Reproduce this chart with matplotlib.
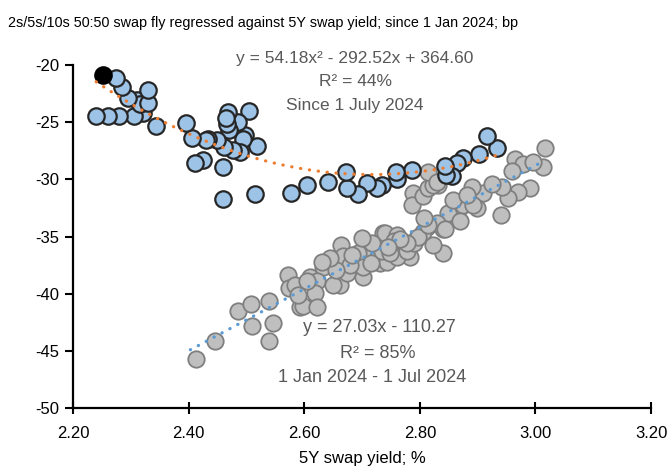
import numpy as np
import matplotlib.pyplot as plt

# 2s/5s/10s fly vs 5Y swap yield, read off the chart
# since 1 Jul 2024 (blue), last point shown in black
recent_x = [2.934, 2.916, 2.902, 2.875, 2.864, 2.856, 2.845, 2.844, 2.787, 2.761,
            2.759, 2.735, 2.726, 2.709, 2.693, 2.674, 2.672, 2.641, 2.605, 2.577,
            2.518, 2.515, 2.504, 2.498, 2.494, 2.489, 2.485, 2.477, 2.470, 2.468,
            2.466, 2.465, 2.461, 2.460, 2.460, 2.449, 2.434, 2.430, 2.425, 2.411,
            2.406, 2.396, 2.344, 2.321, 2.306, 2.280, 2.261, 2.240, 2.311, 2.316,
            2.330, 2.330, 2.295, 2.285, 2.274, 2.252]
recent_y = [-27.3, -26.2, -27.8, -28.1, -28.6, -29.7, -29.6, -28.8, -29.2, -30.0,
            -29.4, -30.5, -30.8, -30.3, -31.3, -30.8, -29.4, -30.2, -30.5, -31.2,
            -27.1, -31.3, -24.0, -26.1, -26.5, -27.6, -25.0, -27.4, -25.7, -24.1,
            -25.2, -24.6, -27.2, -28.9, -31.7, -26.6, -26.5, -26.6, -28.3, -28.6,
            -26.4, -25.1, -25.3, -24.2, -24.5, -24.5, -24.5, -24.5, -23.1, -23.4,
            -23.3, -22.2, -22.9, -21.9, -21.1, -20.9]

# 1 Jan 2024 - 1 Jul 2024 (grey)
early_x = [2.413, 2.446, 2.485, 2.508, 2.539, 2.510, 2.546, 2.539, 2.572, 2.574,
           2.584, 2.593, 2.610, 2.633, 2.622, 2.619, 2.598, 2.622, 2.664, 2.667,
           2.690, 2.702, 2.710, 2.726, 2.702, 2.662, 2.650, 2.736, 2.736, 2.731,
           2.674, 2.788, 2.787, 2.806, 2.814, 2.832, 2.693, 2.702, 2.740, 2.761,
           2.771, 2.795, 2.812, 2.840, 2.852, 2.840, 2.823, 2.783, 2.743, 2.866,
           2.965, 2.979, 3.013, 3.017, 2.996, 2.991, 2.970, 2.953, 2.942, 2.940,
           2.909, 2.890, 2.899, 2.875, 2.849, 2.870, 2.892, 2.823, 2.830, 2.844,
           2.814, 2.830, 2.757, 2.760, 2.777, 2.790, 2.805, 2.680, 2.655, 2.715,
           2.755, 2.735, 2.748, 2.797, 2.778, 2.814, 2.645, 2.631, 2.605, 2.590,
           2.683, 2.718, 2.766, 2.808, 2.858, 2.882, 2.925, 2.960, 2.700, 2.745]
early_y = [-45.7, -44.1, -41.5, -40.9, -40.6, -42.8, -42.6, -44.1, -38.4, -39.5,
           -39.2, -41.2, -38.5, -37.7, -38.9, -39.9, -41.1, -41.2, -35.7, -36.7,
           -37.0, -36.2, -36.4, -37.0, -38.5, -39.2, -39.2, -34.7, -35.9, -37.3,
           -38.2, -31.2, -32.2, -31.5, -30.8, -30.5, -36.4, -37.7, -34.7, -34.9,
           -36.2, -35.1, -34.2, -34.3, -32.9, -36.4, -35.7, -36.8, -37.2, -32.7,
           -28.2, -28.7, -28.9, -27.3, -28.5, -30.8, -31.1, -31.6, -30.7, -33.1,
           -31.2, -30.7, -32.5, -32.2, -32.9, -33.6, -32.2, -30.5, -33.8, -34.3,
           -29.4, -30.2, -36.0, -36.8, -36.3, -35.6, -34.6, -37.5, -37.9, -37.3,
           -35.4, -36.3, -36.4, -35.0, -35.6, -34.0, -36.9, -37.2, -38.9, -40.1,
           -36.6, -35.6, -35.2, -33.4, -31.8, -31.4, -30.4, -29.3, -35.1, -35.9]

xticks = [2.2, 2.4, 2.6, 2.8, 3.0, 3.2]
yticks = [-50, -45, -40, -35, -30, -25, -20]

plt.rcParams['font.family'] = ['Liberation Sans Narrow', 'Liberation Sans', 'DejaVu Sans']

fig = plt.figure(figsize=(6.68, 4.69), dpi=100)
ax = fig.add_axes([0.1093, 0.130, 0.8653, 0.7314])

rx = np.array(recent_x)
ry = np.array(recent_y)
ex = np.array(early_x)
ey = np.array(early_y)

# grey scatter + linear fit
ax.scatter(ex, ey, s=140, facecolor='#BFBFBF', edgecolor='#7F7F7F', linewidth=1.3, zorder=2)
c1 = np.polyfit(ex, ey, 1)
xs = np.linspace(ex.min() - 0.01, ex.max() - 0.01, 100)
ax.plot(xs, np.polyval(c1, xs), color='#5B9BD5', lw=2.3, linestyle=(0, (0.1, 2.7)),
        dash_capstyle='round', zorder=3)

# blue scatter + quadratic fit
ax.scatter(rx[:-1], ry[:-1], s=140, facecolor='#9DC3E6', edgecolor='#262626', linewidth=1.6, zorder=4)
ax.scatter(rx[-1:], ry[-1:], s=140, facecolor='black', edgecolor='black', linewidth=1.6, zorder=5)
c2 = np.polyfit(rx, ry, 2)
xs2 = np.linspace(rx.min(), rx.max(), 100)
ax.plot(xs2, np.polyval(c2, xs2), color='#ED7D31', lw=2.3, linestyle=(0, (0.1, 2.7)),
        dash_capstyle='round', zorder=6)

ax.set_xlim(2.2, 3.2)
ax.set_ylim(-50, -20)
ax.set_xticks(xticks)
ax.set_yticks(yticks)
ax.set_xticklabels([f'{v:.2f}' for v in xticks], fontsize=12)
ax.set_yticklabels([str(v) for v in yticks], fontsize=12)
ax.tick_params(axis='x', direction='inout', length=8, width=1.5, pad=9)
ax.tick_params(axis='y', direction='out', length=6, width=1.5, pad=4)
for s in ['top', 'right']:
    ax.spines[s].set_visible(False)
for s in ['left', 'bottom']:
    ax.spines[s].set_linewidth(1.6)
ax.set_xlabel('5Y swap yield; %', fontsize=12, labelpad=7)

txt = '#595959'
ax.text(2.688, -19.4, 'y = 54.18x² - 292.52x + 364.60', ha='center', va='center', fontsize=12.5, color=txt)
ax.text(2.688, -21.4, 'R² = 44%', ha='center', va='center', fontsize=12.5, color=txt)
ax.text(2.688, -23.5, 'Since 1 July 2024', ha='center', va='center', fontsize=12.5, color=txt)
ax.text(2.73, -43.0, 'y = 27.03x - 110.27', ha='center', va='center', fontsize=13, color=txt)
ax.text(2.728, -45.2, 'R² = 85%', ha='center', va='center', fontsize=13, color=txt)
ax.text(2.718, -47.3, '1 Jan 2024 - 1 Jul 2024', ha='center', va='center', fontsize=13, color=txt)

fig.text(0.012, 0.952, '2s/5s/10s 50:50 swap fly regressed against 5Y swap yield; since 1 Jan 2024; bp',
         fontsize=10.4, ha='left', va='center')

fig.savefig('out.png', dpi=100)
